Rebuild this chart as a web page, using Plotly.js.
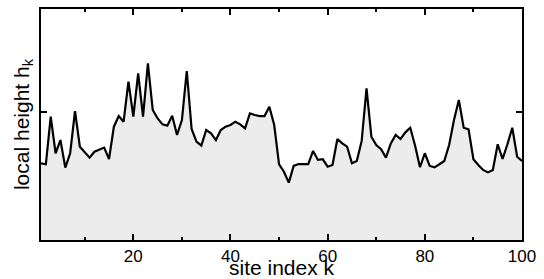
<!DOCTYPE html>
<html>
<head>
<meta charset="utf-8">
<script src="https://cdn.plot.ly/plotly-3.0.1.min.js"></script>
<style>html,body{margin:0;padding:0;background:#fff;}#chart{width:544px;height:279px;}</style>
</head>
<body>
<div id="chart"></div>
<script>
// site index k = 1..100
const siteIndex = [];
for (let k = 1; k <= 100; k++) siteIndex.push(k);

// local height h_k
const localHeight = [
  0.598, 0.590, 0.961, 0.676, 0.779, 0.564, 0.676, 1.005, 0.727, 0.688,
  0.642, 0.688, 0.701, 0.720, 0.631, 0.883, 0.966, 0.922, 1.234, 0.961,
  1.299, 0.961, 1.377, 1.013, 0.948, 0.901, 0.891, 0.969, 0.818, 0.935,
  1.317, 0.865, 0.766, 0.735, 0.857, 0.831, 0.779, 0.857, 0.883, 0.896,
  0.922, 0.901, 0.870, 0.987, 0.974, 0.966, 0.966, 1.039, 0.896, 0.590,
  0.532, 0.447, 0.577, 0.592, 0.592, 0.592, 0.694, 0.624, 0.629, 0.571,
  0.585, 0.787, 0.753, 0.727, 0.598, 0.616, 0.772, 1.182, 0.805, 0.740,
  0.707, 0.642, 0.753, 0.818, 0.787, 0.839, 0.875, 0.735, 0.567, 0.676,
  0.577, 0.566, 0.590, 0.616, 0.740, 0.935, 1.091, 0.875, 0.862, 0.629,
  0.585, 0.546, 0.527, 0.546, 0.746, 0.631, 0.746, 0.875, 0.649, 0.616
];

const xTickVals = [20, 40, 60, 80, 100];
const xTickText = ['20', '40', '60', '80', '100'];
const xMinorTickVals = [10, 30, 50, 70, 90];
const yTickVals = [1];

const font = {family: 'Liberation Sans, Arial, sans-serif', color: '#000'};

const trace = {
  x: siteIndex,
  y: localHeight,
  type: 'scatter',
  mode: 'lines',
  line: {color: '#000', width: 2.2},
  fill: 'tozeroy',
  fillcolor: '#ececec',
  hoverinfo: 'skip'
};

const layout = {
  width: 544,
  height: 279,
  margin: {l: 41, r: 22, t: 9, b: 39},
  paper_bgcolor: '#fff',
  plot_bgcolor: '#fff',
  showlegend: false,
  font: Object.assign({size: 17}, font),
  xaxis: {
    range: [1, 100],
    tickvals: xTickVals,
    ticktext: xTickText,
    ticks: 'inside',
    ticklen: 6,
    tickwidth: 2,
    tickcolor: '#000',
    showline: true,
    linecolor: '#000',
    linewidth: 2,
    mirror: 'allticks',
    showgrid: false,
    zeroline: false,
    tickfont: Object.assign({size: 17}, font),
    minor: {tickvals: xMinorTickVals, ticks: 'inside', ticklen: 3, tickwidth: 2, tickcolor: '#000', showgrid: false},
    title: {text: 'site index k', font: Object.assign({size: 21}, font), standoff: 0}
  },
  yaxis: {
    range: [0, 1.8],
    tickvals: yTickVals,
    showticklabels: false,
    ticks: 'inside',
    ticklen: 6,
    tickwidth: 2,
    tickcolor: '#000',
    showline: true,
    linecolor: '#000',
    linewidth: 2,
    mirror: 'allticks',
    showgrid: false,
    zeroline: false,
    title: {text: 'local height h<sub>k</sub>', font: Object.assign({size: 21}, font), standoff: 4}
  }
};

Plotly.newPlot('chart', [trace], layout, {staticPlot: true, displayModeBar: false});
</script>
</body>
</html>
